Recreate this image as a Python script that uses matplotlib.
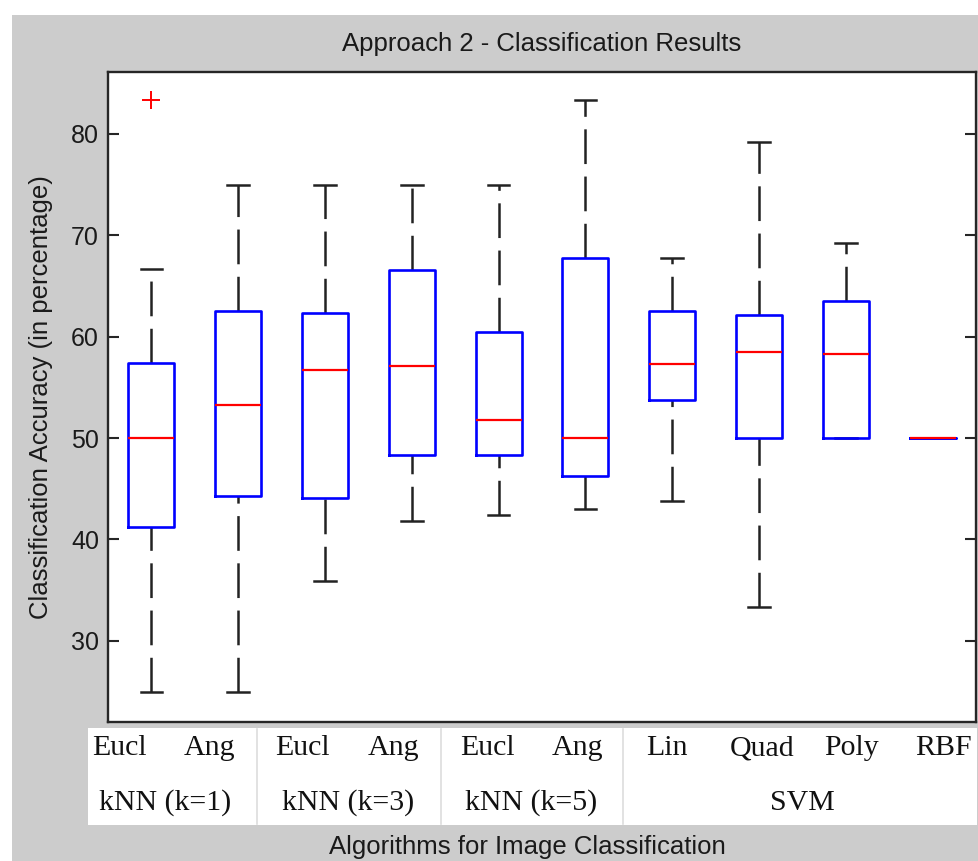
import matplotlib
matplotlib.use("Agg")
import matplotlib.pyplot as plt
from matplotlib.patches import Rectangle
from matplotlib.lines import Line2D

# Valeurs (précision en %)
methodes = ["Eucl", "Ang", "Eucl", "Ang", "Eucl", "Ang", "Lin", "Quad", "Poly", "RBF"]
groupes = ["kNN (k=1)", "kNN (k=3)", "kNN (k=5)", "SVM"]
moustache_bas = [25.0, 25.0, 35.9, 41.8, 42.4, 43.0, 43.75, 33.3, 50.0, 50.0]
q1 = [41.2, 44.3, 44.1, 48.3, 48.3, 46.3, 53.8, 50.0, 50.0, 50.0]
mediane = [50.0, 53.25, 56.75, 57.15, 51.8, 50.0, 57.35, 58.5, 58.3, 50.0]
q3 = [57.4, 62.5, 62.3, 66.6, 60.5, 67.8, 62.5, 62.1, 63.5, 50.0]
moustache_haut = [66.7, 75.0, 75.0, 75.0, 75.0, 83.3, 67.8, 79.2, 69.2, 50.0]
aberrants = [[83.3], [], [], [], [], [], [], [], [], []]

W, H = 979, 861

def fx(x):
    return x / W

def fy(y):
    return 1 - y / H

plt.rcParams['lines.scale_dashes'] = False
plt.rcParams['font.family'] = ['Liberation Sans', 'DejaVu Sans']

fig = plt.figure(figsize=(W / 100, H / 100), dpi=100, facecolor='white')
# fond gris façon fenêtre MATLAB
fig.patches.append(Rectangle((fx(12), 0), 1, fy(15), transform=fig.transFigure,
                             facecolor='#cccccc', edgecolor='none', zorder=-10))

ax = fig.add_axes([fx(108), fy(722), fx(976) - fx(108), fy(72) - fy(722)])

stats = []
for i in range(len(methodes)):
    stats.append({
        'med': mediane[i], 'q1': q1[i], 'q3': q3[i],
        'whislo': moustache_bas[i], 'whishi': moustache_haut[i],
        'fliers': aberrants[i],
    })

res = ax.bxp(stats, positions=range(1, 11), widths=0.53, capwidths=0.25,
             boxprops=dict(color='#0000ff', linewidth=1.9, zorder=2.5),
             medianprops=dict(color='#ff0000', linewidth=1.6, zorder=2.6),
             whiskerprops=dict(color='#222222', linewidth=1.8, linestyle=(0, (25, 9))),
             capprops=dict(color='#222222', linewidth=1.8),
             flierprops=dict(marker='+', markeredgecolor='#ff0000', markersize=13,
                             markeredgewidth=1.4, linestyle='none'))

# MATLAB trace la moustache basse du minimum vers la boîte
for w in res['whiskers'][0::2]:
    xd, yd = w.get_data()
    w.set_data(list(xd)[::-1], list(yd)[::-1])

ax.set_xlim(0.5, 10.5)
ax.set_ylim(22.0, 86.1)
ax.set_yticks([30, 40, 50, 60, 70, 80])
ax.set_xticks([])
ax.tick_params(axis='y', direction='in', length=8, width=1.5, left=True, right=True,
               labelsize=18, pad=6.5, colors='#262626', labelcolor='#1a1a1a')
for s in ax.spines.values():
    s.set_linewidth(1.7)
    s.set_color('#262626')

ax.set_title("Approach 2 - Classification Results", fontsize=18.5, pad=15, color='#1a1a1a')
fig.text(fx(41), fy(397), "Classification Accuracy (in percentage)", rotation=90,
         ha='center', va='center', fontsize=18.5, color='#1a1a1a')
fig.text(fx(527), fy(847), "Algorithms for Image Classification",
         ha='center', va='center', fontsize=18.5, color='#1a1a1a')

# tableau des étiquettes sous l'axe
fig.patches.append(Rectangle((fx(88), fy(825)), fx(977) - fx(88), fy(728) - fy(825),
                             transform=fig.transFigure, facecolor='white',
                             edgecolor='none', zorder=-5))
for xs in [257, 441, 623]:
    fig.lines.append(Line2D([fx(xs), fx(xs)], [fy(729), fy(824)], transform=fig.transFigure,
                            color='#dddddd', linewidth=1.2))

pos_methodes = [119, 210, 302, 394, 487, 578, 667, 762, 852, 943]
pos_groupes = [165, 348, 531, 802]
serif = ['Liberation Serif', 'DejaVu Serif']
for lab, x in zip(methodes, pos_methodes):
    fig.text(fx(x), fy(748), lab, ha='center', va='center', fontsize=21.5,
             family=serif, color='#111111')
for lab, x in zip(groupes, pos_groupes):
    fig.text(fx(x), fy(803), lab, ha='center', va='center', fontsize=21.5,
             family=serif, color='#111111')

fig.savefig("out.png", dpi=100, facecolor=fig.get_facecolor())
